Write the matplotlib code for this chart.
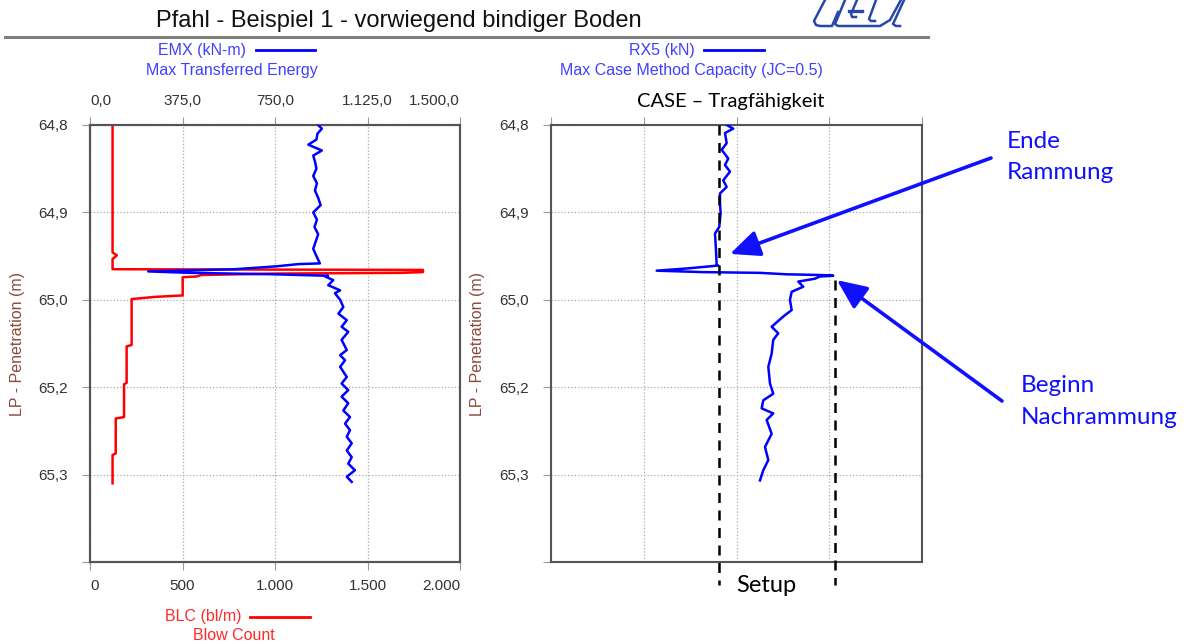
import matplotlib
matplotlib.use("Agg")
import matplotlib.pyplot as plt

# ------------------------------------------------------------------ DATA
blc_depth = [64.800, 64.975, 64.979, 64.984, 64.998, 64.999, 65.002, 65.003,
             65.004, 65.006, 65.008, 65.009, 65.034, 65.036, 65.039, 65.102,
             65.104, 65.154, 65.156, 65.201, 65.203, 65.251, 65.253, 65.292]
blc_value = [122, 122, 145, 122, 122, 1800, 1800, 1680,
             1000, 600, 576, 501, 501, 351, 225, 225,
             198, 198, 184, 184, 139, 139, 122, 122]

emx_depth = [64.800, 64.805, 64.812, 64.820, 64.827, 64.835, 64.842, 64.850,
             64.860, 64.870, 64.880, 64.890, 64.900, 64.910, 64.920, 64.930,
             64.940, 64.950, 64.960, 64.970, 64.980, 64.990,
             64.991, 64.994, 64.998, 65.001, 65.003, 65.005, 65.007,
             65.008, 65.013, 65.020, 65.027, 65.031, 65.040, 65.050, 65.059,
             65.068, 65.077, 65.084, 65.095, 65.109, 65.116, 65.123, 65.132,
             65.146, 65.155, 65.164, 65.173, 65.182, 65.192, 65.201, 65.210,
             65.219, 65.228, 65.237, 65.247, 65.256, 65.265, 65.274, 65.283,
             65.290]
emx_value = [925, 940, 922, 918, 885, 940, 905, 912,
             918, 905, 920, 912, 925, 935, 905, 920,
             910, 925, 915, 905, 918, 932,
             845, 757, 588, 236, 405, 750, 965,
             953, 986, 966, 1014, 993, 1014, 1027, 1007,
             1041, 1020, 1047, 1020, 1041, 1014, 1034, 1014,
             1041, 1020, 1047, 1020, 1047, 1027, 1054, 1034,
             1054, 1041, 1061, 1041, 1061, 1047, 1074, 1041,
             1061]

rx5_depth = [64.800, 64.805, 64.811, 64.825, 64.834, 64.846, 64.855, 64.864,
             64.876, 64.885, 64.894, 64.908, 64.921, 64.940, 64.949, 64.972,
             64.992, 64.993, 64.997, 65.000, 65.002, 65.003, 65.005, 65.006,
             65.007, 65.008, 65.011, 65.015, 65.022, 65.029, 65.040, 65.054,
             65.063, 65.077, 65.086, 65.095, 65.114, 65.132, 65.155, 65.169,
             65.178, 65.189, 65.196, 65.205, 65.224, 65.242, 65.260, 65.274,
             65.288]
rx5_value = [1894, 1965, 1876, 1894, 1840, 1911, 1876, 1930,
             1857, 1894, 1822, 1822, 1829, 1814, 1768, 1779,
             1786, 1803, 1463, 1139, 1642, 2253, 2541, 2918,
             3043, 2900, 2846, 2666, 2720, 2595, 2576, 2595,
             2504, 2379, 2450, 2396, 2379, 2343, 2361, 2396,
             2289, 2271, 2396, 2325, 2379, 2307, 2343, 2289,
             2253]

# Setup: Kapazitaet Ende Rammung / Beginn Nachrammung (kN)
setup_end = 1808
setup_restrike = 3062
setup_restrike_depth = 65.013

depth_ticks = [64.8, 64.92, 65.04, 65.16, 65.28, 65.40]
blc_ticks = [0, 500, 1000, 1500, 2000]
emx_ticks = [0, 375, 750, 1125, 1500]
rx5_ticks = [0, 1000, 2000, 3000, 4000]

# ------------------------------------------------------------------ SETTINGS
W, H = 1186, 644
ARIAL = "Liberation Sans"
CALIBRI = "Lato"
BLUE = "#0000ff"
RED = "#ff0000"
LEG_BLUE = "#4040ff"
LEG_RED = "#ff2a2a"
TXT = "#333333"


def de(v, dec=0):
    s = f"{v:,.{dec}f}"
    return s.replace(",", "X").replace(".", ",").replace("X", ".")


def box(x0, y0, x1, y1):
    return [x0 / W, 1 - y1 / H, (x1 - x0) / W, (y1 - y0) / H]


def style(ax, label_x):
    for sp in ax.spines.values():
        sp.set_color("#555555")
        sp.set_linewidth(1.5)
    ax.set_ylim(depth_ticks[-1], depth_ticks[0])
    ax.set_yticks(depth_ticks)
    ax.set_yticklabels([de(v, 1) for v in depth_ticks[:-1]] + [""],
                       fontsize=11, family=ARIAL, color=TXT)
    ax.tick_params(axis="y", direction="out", length=6, color="#999999",
                   pad=10)
    ax.grid(True, ls=":", color="#aaaaaa", lw=0.9)
    ax.set_ylabel("LP - Penetration (m)", color="#8a4b3c", fontsize=11.5,
                  family=ARIAL)
    ax.yaxis.set_label_coords(label_x, 0.5)


fig = plt.figure(figsize=(W / 100, H / 100), dpi=100)

# ---- linkes Diagramm: BLC (unten) und EMX (oben)
ax_l = fig.add_axes(box(90, 125, 460, 562))
style(ax_l, -0.175)
ax_l.set_xlim(blc_ticks[0], blc_ticks[-1])
ax_l.set_xticks(blc_ticks)
ax_l.set_xticklabels([de(v) for v in blc_ticks], fontsize=11, family=ARIAL,
                     color=TXT)
ax_l.tick_params(axis="x", direction="out", length=6, color="#999999", pad=6)
lbl = ax_l.get_xticklabels()
lbl[0].set_ha("left")
lbl[-1].set_ha("right")
ax_l.plot(blc_value, blc_depth, color=RED, lw=1.8, zorder=3)

ax_t = ax_l.twiny()
ax_t.set_xlim(emx_ticks[0], emx_ticks[-1])
ax_t.set_xticks(emx_ticks)
ax_t.set_xticklabels([de(v, 1) for v in emx_ticks], fontsize=11, family=ARIAL,
                     color=TXT)
ax_t.tick_params(axis="x", direction="out", length=6, color="#999999", pad=6)
lbl = ax_t.get_xticklabels()
lbl[0].set_ha("left")
lbl[-1].set_ha("right")
for sp in ax_t.spines.values():
    sp.set_color("#555555")
    sp.set_linewidth(1.5)
ax_t.plot(emx_value, emx_depth, color=BLUE, lw=1.8, zorder=3)
ax_t.set_ylim(depth_ticks[-1], depth_ticks[0])

# ---- rechtes Diagramm: RX5
ax_r = fig.add_axes(box(551, 125, 922, 562))
style(ax_r, -0.178)
ax_r.set_xlim(rx5_ticks[0], rx5_ticks[-1])
ax_r.set_xticks(rx5_ticks)
ax_r.tick_params(axis="x", direction="out", length=6, color="#999999",
                 top=True, bottom=False, labeltop=False, labelbottom=False)
ax_r.plot(rx5_value, rx5_depth, color=BLUE, lw=1.8, zorder=3)
ax_r.plot([setup_end, setup_end], [depth_ticks[0], 65.432], color="black",
          ls=(0, (4, 3)), lw=1.8, clip_on=False, zorder=4)
ax_r.plot([setup_restrike, setup_restrike], [setup_restrike_depth, 65.432],
          color="black", ls=(0, (4, 3)), lw=1.8, clip_on=False, zorder=4)

# ---- Overlay fuer Texte in Pixelkoordinaten
ov = fig.add_axes([0, 0, 1, 1], zorder=10)
ov.set_xlim(0, W)
ov.set_ylim(H, 0)
ov.axis("off")

ov.text(399, 21, "Pfahl - Beispiel 1 - vorwiegend bindiger Boden",
        fontsize=17, family=ARIAL, ha="center", va="center", color="#111111")
ov.plot([5, 928], [37, 37], color="#808080", lw=2.2)

# Logo (angeschnitten)
logo_col = "#2848a8"
ov.plot([826, 814, 816, 820, 832, 838], [-2, 21, 25, 26, 26, 12],
        color=logo_col, lw=1.8, clip_on=False)
ov.plot([845, 835, 838, 880, 890, 902], [0, 24, 26, 26, 20, -2],
        color=logo_col, lw=1.8, clip_on=False)
ov.plot([857, 851, 852, 856], [0, 14, 17, 17], color=logo_col, lw=1.8)
ov.plot([849, 862], [11, 11], color=logo_col, lw=2.4)
ov.plot([876, 869, 871, 875], [0, 19, 21, 21], color=logo_col, lw=1.8)
ov.plot([905, 893, 896, 900], [-2, 24, 26, 26], color=logo_col, lw=1.8,
        clip_on=False)

# Legenden
ov.text(202, 50, "EMX (kN-m)", fontsize=11.5, family=ARIAL, ha="center",
        va="center", color=LEG_BLUE)
ov.plot([256, 315], [50, 50], color=BLUE, lw=2)
ov.text(232, 70, "Max Transferred Energy", fontsize=11.5, family=ARIAL,
        ha="center", va="center", color=LEG_BLUE)
ov.text(662, 50, "RX5 (kN)", fontsize=11.5, family=ARIAL, ha="center",
        va="center", color=LEG_BLUE)
ov.plot([704, 764], [50, 50], color=BLUE, lw=2)
ov.text(691, 70, "Max Case Method Capacity (JC=0.5)", fontsize=11.5,
        family=ARIAL, ha="center", va="center", color=LEG_BLUE)
ov.text(203, 617, "BLC (bl/m)", fontsize=11.5, family=ARIAL, ha="center",
        va="center", color=LEG_RED)
ov.plot([250, 310], [617, 617], color=RED, lw=2)
ov.text(234, 636, "Blow Count", fontsize=11.5, family=ARIAL, ha="center",
        va="center", color=LEG_RED)

ov.text(731, 101, "CASE \u2013 Tragfähigkeit", fontsize=14.5, family=CALIBRI,
        ha="center", va="center", color="black")
ov.text(766, 586, "Setup", fontsize=17, family=CALIBRI, ha="center",
        va="center", color="black")

ann_col = "#1010ff"
ov.text(1007, 141, "Ende", fontsize=17.5, family=CALIBRI, ha="left",
        va="center", color=ann_col)
ov.text(1007, 172, "Rammung", fontsize=17.5, family=CALIBRI, ha="left",
        va="center", color=ann_col)
ov.text(1021, 385, "Beginn", fontsize=17.5, family=CALIBRI, ha="left",
        va="center", color=ann_col)
ov.text(1021, 417, "Nachrammung", fontsize=17.5, family=CALIBRI, ha="left",
        va="center", color=ann_col)

arrow = dict(arrowstyle="-|>,head_length=0.9,head_width=0.4", color=ann_col,
             lw=2.6, shrinkA=0, shrinkB=0, mutation_scale=20)
ax_r.annotate("", xy=(1930, 64.977), xycoords="data",
              xytext=(991, 158), textcoords=ov.transData, arrowprops=arrow,
              annotation_clip=False)
ax_r.annotate("", xy=(3083, 65.013), xycoords="data",
              xytext=(1002, 401), textcoords=ov.transData, arrowprops=arrow,
              annotation_clip=False)

fig.savefig("out.png", dpi=100)
